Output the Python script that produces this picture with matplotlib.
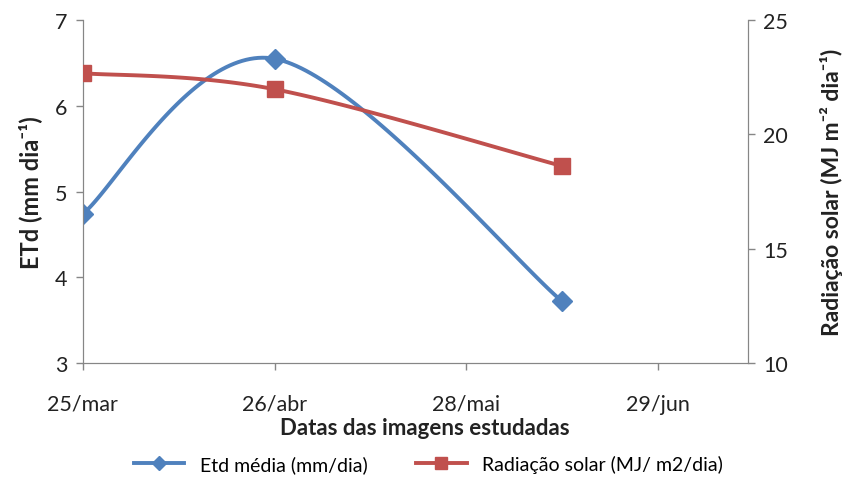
import matplotlib
matplotlib.use('Agg')
import matplotlib.pyplot as plt
import matplotlib.dates as mdates
import numpy as np
import datetime as dt

# data
datas = [dt.date(2011, 3, 25), dt.date(2011, 4, 26), dt.date(2011, 6, 13)]
etd_media = [4.74, 6.55, 3.72]
radiacao = [22.68, 21.98, 18.62]
tick_datas = [dt.date(2011, 3, 25), dt.date(2011, 4, 26), dt.date(2011, 5, 28), dt.date(2011, 6, 29)]
tick_labels = ['25/mar', '26/abr', '28/mai', '29/jun']

azul = '#4F81BD'
vermelho = '#C0504D'
cinza = '#868686'

plt.rcParams['font.family'] = ['Lato', 'DejaVu Sans']

fig = plt.figure(figsize=(8.45, 4.81), dpi=100)
ax = fig.add_axes([0.098, 0.243, 0.787, 0.713])
ax2 = ax.twinx()

xmin = mdates.date2num(dt.date(2011, 3, 25))
xmax = xmin + 111
ax.set_xlim(xmin, xmax)
ax.set_ylim(3, 7)
ax2.set_ylim(10, 25)


def suave(x, y, ylim, n=60):
    # excel-like smoothed line (catmull-rom in screen proportions)
    w, h = 6.65, 3.43
    px = (np.array(x) - xmin) / (xmax - xmin) * w
    py = (np.array(y) - ylim[0]) / (ylim[1] - ylim[0]) * h
    P = np.column_stack([px, py])
    P = np.vstack([P[0], P, P[-1]])
    pts = []
    for i in range(1, len(P) - 2):
        p0, p1, p2, p3 = P[i - 1], P[i], P[i + 1], P[i + 2]
        c1 = p1 + (p2 - p0) / 6
        c2 = p2 - (p3 - p1) / 6
        t = np.linspace(0, 1, n)[:, None]
        b = (1 - t) ** 3 * p1 + 3 * (1 - t) ** 2 * t * c1 + 3 * (1 - t) * t ** 2 * c2 + t ** 3 * p2
        pts.append(b)
    pts = np.vstack(pts)
    xs = pts[:, 0] / w * (xmax - xmin) + xmin
    ys = pts[:, 1] / h * (ylim[1] - ylim[0]) + ylim[0]
    return xs, ys


xn = mdates.date2num(datas)
xs, ys = suave(xn, etd_media, (3, 7))
ax.plot(xs, ys, color=azul, lw=2.8, solid_capstyle='round')
ax.plot(xn, etd_media, 'D', color=azul, ms=10, zorder=3)
xs2, ys2 = suave(xn, radiacao, (10, 25))
ax2.plot(xs2, ys2, color=vermelho, lw=2.8, solid_capstyle='round')
ax2.plot(xn, radiacao, 's', color=vermelho, ms=12, zorder=3)

ax.set_xticks(mdates.date2num(tick_datas))
ax.set_xticklabels(tick_labels)
ax.set_yticks([3, 4, 5, 6, 7])
ax2.set_yticks([10, 15, 20, 25])

for a in (ax, ax2):
    a.spines['top'].set_visible(False)
    for s in a.spines.values():
        s.set_color(cinza)
    a.tick_params(colors=cinza, labelcolor='#222222', labelsize=15.5, length=5, width=1)
ax.tick_params(axis='x', pad=17)
ax.tick_params(axis='y', pad=6)
ax2.tick_params(axis='y', pad=6)

ax.set_xlabel('Datas das imagens estudadas', fontsize=16, fontweight='bold', color='#222222')
ax.xaxis.set_label_coords(0.515, -0.158)
ax.set_ylabel('ETd (mm dia⁻¹)', fontsize=17, fontweight='bold', color='#222222')
ax.yaxis.set_label_coords(-0.062, 0.5)
ax2.set_ylabel('Radiação solar (MJ m⁻² dia⁻¹)', fontsize=16.5,
               fontweight='bold', color='#222222')
ax2.yaxis.set_label_coords(1.108, 0.5)

h1 = plt.Line2D([], [], color=azul, lw=2.8, marker='D', ms=7)
h2 = plt.Line2D([], [], color=vermelho, lw=2.8, marker='s', ms=8)
fig.legend([h1, h2], ['Etd média (mm/dia)', 'Radiação solar (MJ/ m2/dia)'],
           loc='center', bbox_to_anchor=(0.507, 0.033), ncol=2, frameon=False,
           fontsize=14, handlelength=2.6, columnspacing=2.5)

fig.savefig('out.png', dpi=100)
